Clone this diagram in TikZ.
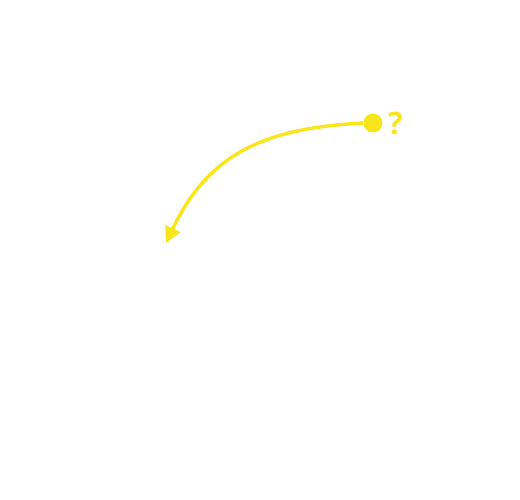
\documentclass[tikz,border=0pt]{standalone}
\usepackage{fontspec}
\setmainfont{Open Sans}
\usetikzlibrary{arrows.meta}
\definecolor{yel}{RGB}{248,229,28}
\tikzset{conn/.style={draw=yel,line width=3.4bp,-{Triangle[length=16bp,width=16bp]}},
 dotstyle/.style={circle,fill=yel,inner sep=0pt,minimum size=19bp},
 qlabel/.style={text=yel,font=\bfseries\fontsize{31}{31}\selectfont,inner sep=0pt,anchor=west}}
\begin{document}
\begin{tikzpicture}[x=1bp,y=1bp]
\useasboundingbox (0,0) rectangle (520,500);
\node[dotstyle] (d) at (373,377) {};
\node[qlabel] (q) at (388,376) {?};
\coordinate (e) at (166,257);
\draw[conn] (d.west) .. controls (270,372) and (210,350) .. (e);
\end{tikzpicture}
\end{document}
